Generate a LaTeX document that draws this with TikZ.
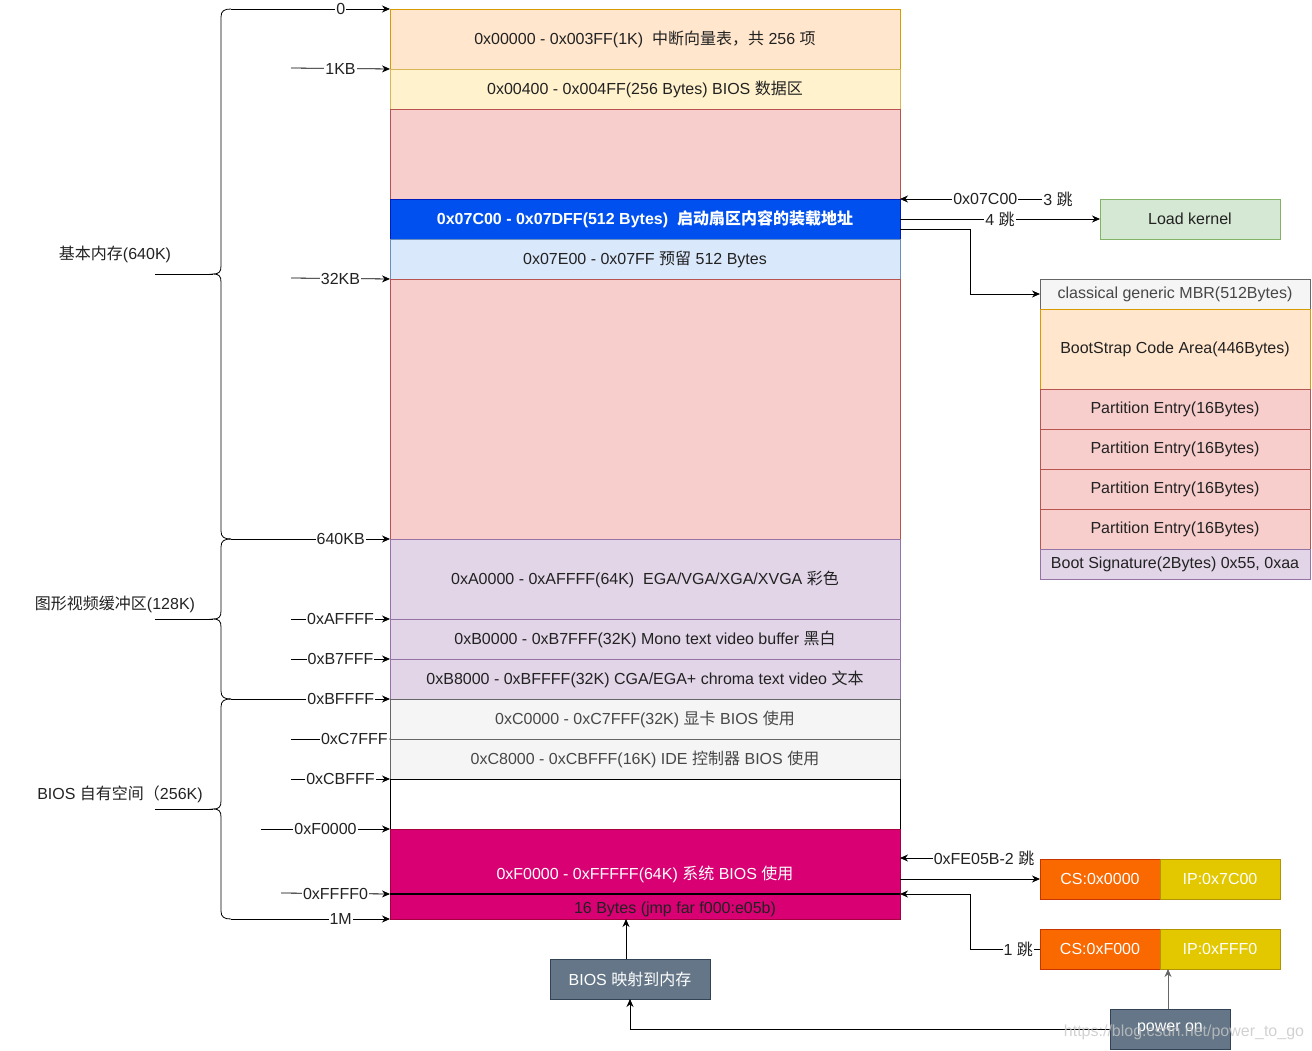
\documentclass[tikz,border=0pt]{standalone}
\usepackage{fontspec}
\setmainfont{Liberation Sans}
\newfontfamily\cjk{Noto Sans CJK SC}
\newcommand\zh[1]{{\cjk #1}}
\newcommand\fs{\fontsize{16}{19}\selectfont}
\usetikzlibrary{arrows.meta}
\definecolor{txt}{HTML}{222222}
\definecolor{orgF}{HTML}{FFE6CC}\definecolor{orgD}{HTML}{D79B00}
\definecolor{yelF}{HTML}{FFF2CC}\definecolor{yelD}{HTML}{D6B656}
\definecolor{redF}{HTML}{F8CECC}\definecolor{redD}{HTML}{B85450}
\definecolor{bluF}{HTML}{0050EF}\definecolor{bluD}{HTML}{001DBC}
\definecolor{lbuF}{HTML}{DAE8FC}\definecolor{lbuD}{HTML}{6C8EBF}
\definecolor{purF}{HTML}{E1D5E7}\definecolor{purD}{HTML}{9673A6}
\definecolor{gryF}{HTML}{F5F5F5}\definecolor{gryD}{HTML}{666666}
\definecolor{magF}{HTML}{D80073}\definecolor{magD}{HTML}{A50040}
\definecolor{grnF}{HTML}{D5E8D4}\definecolor{grnD}{HTML}{82B366}
\definecolor{csF}{HTML}{FA6800}\definecolor{csD}{HTML}{C73500}
\definecolor{ipF}{HTML}{E3C800}\definecolor{ipD}{HTML}{B09500}
\definecolor{slF}{HTML}{647687}\definecolor{slD}{HTML}{314354}
\begin{document}
\begin{tikzpicture}[x=1pt,y=-1pt,
  box/.style={rectangle, inner sep=0pt, outer sep=0pt, text=txt, font=\fs, line width=0.8pt},
  mem/.style={box, minimum width=510pt},
  mbr/.style={box, minimum width=270pt},
  lbl/.style={fill=white, inner sep=1pt, text=txt, font=\fs},
  arr/.style={-{Stealth[length=8pt,width=7pt]}, line width=0.8pt, draw=black},
  brc/.style={line width=0.8pt, draw=black}]
\useasboundingbox (0,0) rectangle (1312,1051);

% ---------- memory column ----------
\node[mem, fill=orgF, draw=orgD, minimum height=60pt] (r1) at (645,39) {0x00000 - 0x003FF(1K)\ \ \zh{中断向量表，共} 256 \zh{项}};
\node[mem, fill=yelF, draw=yelD, minimum height=40pt] (r2) at (645,89) {0x00400 - 0x004FF(256 Bytes) BIOS \zh{数据区}};
\node[mem, fill=redF, draw=redD, minimum height=90pt] (r3) at (645,154) {};
\node[mem, fill=bluF, draw=bluD, minimum height=40pt, text=white, font=\fs\bfseries] (r4) at (645,219) {0x07C00 - 0x07DFF(512 Bytes)\ \ {\cjk\bfseries 启动扇区内容的装载地址}};
\node[mem, fill=lbuF, draw=lbuD, minimum height=40pt] (r5) at (645,259) {0x07E00 - 0x07FF \zh{预留} 512 Bytes};
\node[mem, fill=redF, draw=redD, minimum height=260pt] (r6) at (645,409) {};
\node[mem, fill=purF, draw=purD, minimum height=80pt] (r7) at (645,579) {0xA0000 - 0xAFFFF(64K)\ \ EGA/VGA/XGA/XVGA \zh{彩色}};
\node[mem, fill=purF, draw=purD, minimum height=40pt] (r8) at (645,639) {0xB0000 - 0xB7FFF(32K) Mono text video buffer \zh{黑白}};
\node[mem, fill=purF, draw=purD, minimum height=40pt] (r9) at (645,679) {0xB8000 - 0xBFFFF(32K) CGA/EGA+ chroma text video \zh{文本}};
\node[mem, fill=gryF, draw=gryD, minimum height=40pt, text=gryD!70!black] (r10) at (645,719) {0xC0000 - 0xC7FFF(32K) \zh{显卡} BIOS \zh{使用}};
\node[mem, fill=gryF, draw=gryD, minimum height=40pt, text=gryD!70!black] (r11) at (645,759) {0xC8000 - 0xCBFFF(16K) IDE \zh{控制器} BIOS \zh{使用}};
\node[mem, fill=white, draw=black, minimum height=50pt] (r12) at (645,804) {};
\node[mem, fill=magF, draw=magD, minimum height=90pt, text=white] (r13) at (645,874) {0xF0000 - 0xFFFFF(64K) \zh{系统} BIOS \zh{使用}};
\coordinate (sepW) at (390,894);
\coordinate (sepE) at (900,894);
\draw[line width=2pt] (sepW) -- (sepE);
\node[font=\fs, text=txt, inner sep=0pt] (jmp) at (675,909) {16 Bytes (jmp far f000:e05b)};

% ---------- braces ----------
\draw[brc] (231,9) .. controls (224,9) and (221,11) .. (221,17) -- (221,266) .. controls (221,272) and (219,274) .. (213,274)
           .. controls (219,274) and (221,276) .. (221,282) -- (221,531) .. controls (221,537) and (224,539) .. (231,539);
\draw[brc] (155,274) -- (213,274);
\draw[brc] (231,539) .. controls (224,539) and (221,541) .. (221,547) -- (221,611) .. controls (221,617) and (219,619) .. (213,619)
           .. controls (219,619) and (221,621) .. (221,627) -- (221,691) .. controls (221,697) and (224,699) .. (231,699);
\draw[brc] (155,619) -- (213,619);
\draw[brc] (231,699) .. controls (224,699) and (221,701) .. (221,707) -- (221,801) .. controls (221,807) and (219,809) .. (213,809)
           .. controls (219,809) and (221,811) .. (221,817) -- (221,911) .. controls (221,917) and (224,919) .. (231,919);
\draw[brc] (155,809) -- (213,809);
\node[font=\fs, text=txt] (g1) at (115,254) {\zh{基本内存}(640K)};
\node[font=\fs, text=txt] (g2) at (115,604) {\zh{图形视频缓冲区}(128K)};
\node[font=\fs, text=txt] (g3) at (120,794) {BIOS \zh{自有空间（}256K)};

% ---------- left address arrows ----------
\coordinate (b0) at (231,9);
\coordinate (b640) at (231,539);
\coordinate (bBF) at (231,699);
\coordinate (b1M) at (231,919);
\coordinate (s1KB) at (291,68);
\coordinate (s32) at (291,278);
\coordinate (sAF) at (291,619);
\coordinate (sB7) at (291,659);
\coordinate (sC7) at (291,739);
\coordinate (sCB) at (291,779);
\coordinate (sF0) at (261,829);
\coordinate (sFF) at (281,893);
\draw[arr] (b0) -- node[lbl, pos=0.69] {0} (r1.north west);
\draw[arr] (s1KB) -- node[lbl] {1KB} (r1.south west);
\draw[arr] (s32) -- node[lbl] {32KB} (r5.south west);
\draw[arr] (b640) -- node[lbl, pos=0.69] {640KB} (r6.south west);
\draw[arr] (sAF) -- node[lbl] {0xAFFFF} (r7.south west);
\draw[arr] (sB7) -- node[lbl] {0xB7FFF} (r8.south west);
\draw[arr] (bBF) -- node[lbl, pos=0.69] {0xBFFFF} (r9.south west);
\draw[arr] (sC7) -- node[lbl, pos=0.64] {0xC7FFF} (r10.south west);
\draw[arr] (sCB) -- node[lbl] {0xCBFFF} (r11.south west);
\draw[arr] (sF0) -- node[lbl] {0xF0000} (r13.north west);
\draw[arr] (sFF) -- node[lbl] {0xFFFF0} (sepW);
\draw[arr] (b1M) -- node[lbl, pos=0.69] {1M} (r13.south west);

% ---------- right: MBR ----------
\node[box, fill=grnF, draw=grnD, minimum width=180pt, minimum height=40pt] (lk) at (1190,219) {Load kernel};
\node[mbr, fill=gryF, draw=gryD, minimum height=30pt, text=gryD!70!black] (m0) at (1175,294) {classical generic MBR(512Bytes)};
\node[mbr, fill=orgF, draw=orgD, minimum height=80pt] (m1) at (1175,349) {BootStrap Code Area(446Bytes)};
\node[mbr, fill=redF, draw=redD, minimum height=40pt] (m2) at (1175,409) {Partition Entry(16Bytes)};
\node[mbr, fill=redF, draw=redD, minimum height=40pt] (m3) at (1175,449) {Partition Entry(16Bytes)};
\node[mbr, fill=redF, draw=redD, minimum height=40pt] (m4) at (1175,489) {Partition Entry(16Bytes)};
\node[mbr, fill=redF, draw=redD, minimum height=40pt] (m5) at (1175,529) {Partition Entry(16Bytes)};
\node[mbr, fill=purF, draw=purD, minimum height=30pt] (m6) at (1175,564) {Boot Signature(2Bytes) 0x55, 0xaa};

\node[lbl] (j3) at (1058,199) {3 \zh{跳}};
\draw[arr] (j3.west) -- node[lbl, pos=0.4] {0x07C00} (r4.north east);
\draw[arr] (r4.east) -- node[lbl] {4 \zh{跳}} (lk.west);
\draw[arr] ([yshift=-10pt]r4.east) -- ++(70,0) |- (m0.west);

% ---------- right: CS:IP ----------
\node[box, fill=csF, draw=csD, minimum width=120pt, minimum height=40pt, text=white] (cs1) at (1100,879) {CS:0x0000};
\node[box, fill=ipF, draw=ipD, minimum width=120pt, minimum height=40pt, text=white] (ip1) at (1220,879) {IP:0x7C00};
\node[box, fill=csF, draw=csD, minimum width=120pt, minimum height=40pt, text=white] (cs2) at (1100,949) {CS:0xF000};
\node[box, fill=ipF, draw=ipD, minimum width=120pt, minimum height=40pt, text=white] (ip2) at (1220,949) {IP:0xFFF0};

\node[lbl] (fe) at (984,858) {0xFE05B-2 \zh{跳}};
\draw[arr] (fe.west) -- (r13.east |- fe.west);
\draw[arr] (r13.east |- cs1.west) -- (cs1.west);
\draw[arr] (cs2.west) -- node[lbl, pos=0.31] {1 \zh{跳}} ++(-70,0) |- (sepE);

% ---------- bottom ----------
\node[box, fill=slF, draw=slD, minimum width=160pt, minimum height=40pt, text=white] (bm) at (630,979) {BIOS \zh{映射到内存}};
\node[box, fill=slF, draw=slD, minimum width=120pt, minimum height=40pt, text=white] (pw) at (1170,1029) {power on};
\draw[arr] ([xshift=-4pt]bm.north) -- ([xshift=-4pt]bm.north |- r13.south);
\draw[arr] (pw.west) -| (bm.south);
\draw[arr, draw=gryD] ([xshift=-2pt]pw.north) -- ([xshift=-2pt]pw.north |- ip2.south);

\node[font=\fs, text=gray!45, opacity=0.8, inner sep=0pt] (wm) at (1184,1032) {https://blog.csdn.net/power\_to\_go};
\end{tikzpicture}
\end{document}
